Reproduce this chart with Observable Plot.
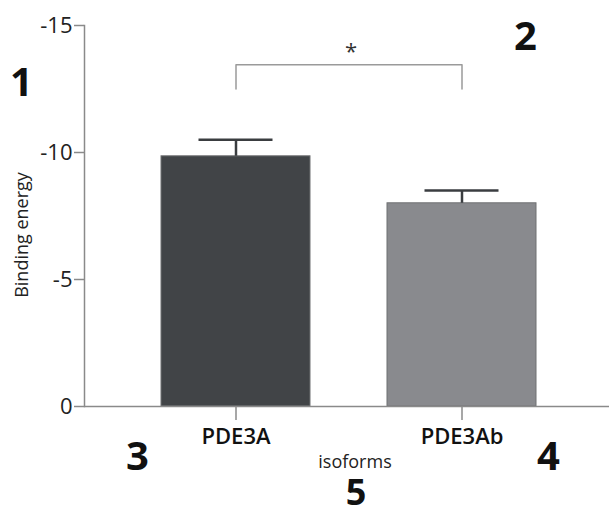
<!DOCTYPE html>
<html>
<head>
<meta charset="utf-8">
<script src="https://cdn.jsdelivr.net/npm/d3@7"></script>
<script src="https://cdn.jsdelivr.net/npm/@observablehq/plot@0.6"></script>
<style>
  html, body { margin: 0; padding: 0; background: #fff; }
  #chart svg { display: block; font-family: "Open Sans", sans-serif; }
</style>
</head>
<body>
<div id="chart"></div>
<script>
// Data
const isoforms = ["PDE3A", "PDE3Ab"];
const bindingEnergy = [-9.85, -8.0];
const errorUpper = [-10.5, -8.5];
const barColors = ["#414447", "#898a8e"];
const yTicks = [0, -5, -10, -15];
const bracketY = [-12.5, -13.45, -13.45, -12.5];
const bracketX = ["PDE3A", "PDE3A", "PDE3Ab", "PDE3Ab"];
const panelLabels = ["1", "2", "3", "4", "5"];

const bars = isoforms.map((d, i) => ({isoform: d, value: bindingEnergy[i], upper: errorUpper[i], color: barColors[i]}));
const bracket = bracketX.map((x, i) => ({x, y: bracketY[i]}));

const axisGray = "#8a8a8a";
const numStyle = {fontSize: 40, fontWeight: 700, fill: "#111", textAnchor: "middle", lineAnchor: "middle"};

const chart = Plot.plot({
  width: 609,
  height: 508,
  marginLeft: 84,
  marginRight: 0,
  marginTop: 25,
  marginBottom: 102,
  style: {fontFamily: "Open Sans, sans-serif", background: "#fff"},
  x: {domain: isoforms, range: [83, 614], padding: 0.34},
  y: {domain: [0, -15]},
  marks: [
    Plot.frame({anchor: "left", stroke: axisGray, strokeWidth: 1.5}),
    Plot.barY(bars, {x: "isoform", y1: 0, y2: "value", fill: "color", stroke: "#6f7073", strokeWidth: 1}),
    Plot.ruleX(bars, {x: "isoform", y1: "value", y2: "upper", stroke: "#3a3d40", strokeWidth: 2.5}),
    Plot.tickY(bars, {x: "isoform", y: "upper", stroke: "#3a3d40", strokeWidth: 2.5, insetLeft: 37.5, insetRight: 37.5}),
    Plot.ruleY([0], {stroke: axisGray, strokeWidth: 1.5}),
    Plot.line(bracket, {x: "x", y: "y", stroke: "#9a9a9a", strokeWidth: 1.5}),
    Plot.text(["*"], {y: -13.95, dx: 4, fontSize: 22, fill: "#333", lineAnchor: "middle"}),
    Plot.axisY({ticks: yTicks, tickFormat: d => String(d), tickSize: 10, tickPadding: 2, fontSize: 22, stroke: axisGray, strokeWidth: 1.5, fill: "#222", label: null}),
    Plot.axisX({tickSize: 14, tickPadding: 8, fontSize: 22, fontWeight: 600, stroke: axisGray, strokeWidth: 1.5, fill: "#111", label: null}),
    Plot.text(["Binding energy"], {frameAnchor: "left", dx: -62, dy: 19, rotate: -90, textAnchor: "middle", lineAnchor: "middle", fontSize: 18, fill: "#222"}),
    Plot.text(["isoforms"], {frameAnchor: "bottom", dy: 56, dx: 8, textAnchor: "middle", lineAnchor: "middle", fontSize: 18, fill: "#222"}),
    Plot.text([panelLabels[0]], {...numStyle, frameAnchor: "top-left", dx: -63, dy: 58}),
    Plot.text([panelLabels[1]], {...numStyle, frameAnchor: "top-left", dx: 441, dy: 12}),
    Plot.text([panelLabels[2]], {...numStyle, frameAnchor: "bottom-left", dx: 53, dy: 51}),
    Plot.text([panelLabels[3]], {...numStyle, frameAnchor: "bottom-left", dx: 464, dy: 51}),
    Plot.text([panelLabels[4]], {...numStyle, fontSize: 36, frameAnchor: "bottom", dx: 9, dy: 87})
  ]
});
document.getElementById("chart").appendChild(chart);
</script>
</body>
</html>
